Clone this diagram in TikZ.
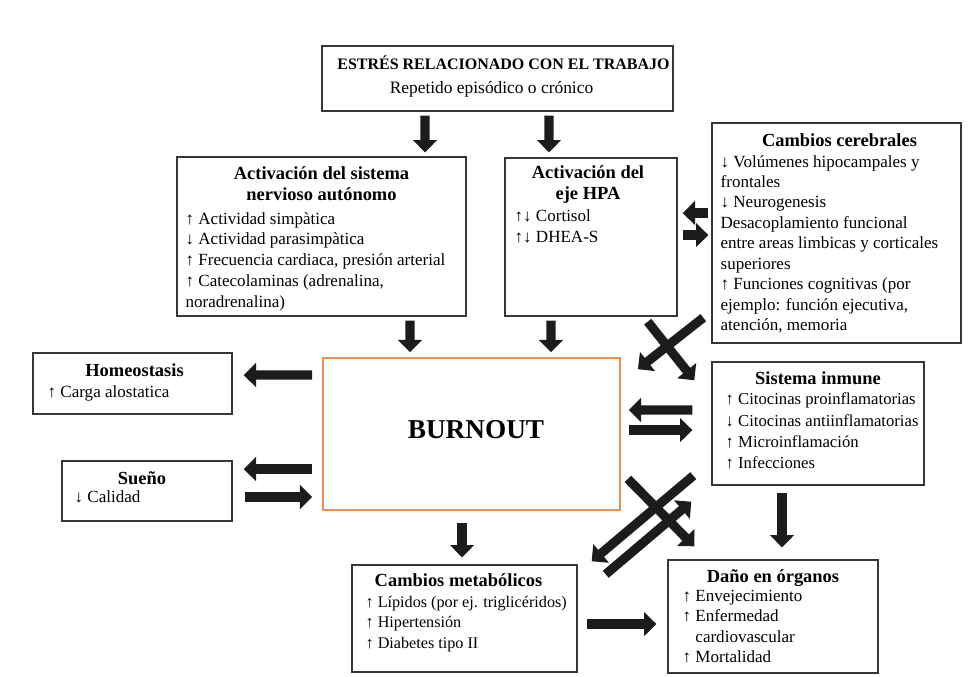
\documentclass[tikz,border=0pt]{standalone}
\usepackage{fontspec}
\setmainfont{Liberation Serif}
\usetikzlibrary{arrows.meta,positioning,fit,calc}
\definecolor{burnorange}{RGB}{235,145,80}
\definecolor{boxgray}{RGB}{55,55,55}
\definecolor{arrowblack}{RGB}{28,28,28}
\tikzset{
  box/.style={draw=boxgray, line width=0.8pt, inner sep=0pt},
  ttl/.style={font=\fontsize{10.5}{11.4}\selectfont\bfseries, align=center, inner sep=0pt, anchor=north},
  lst/.style={font=\fontsize{9.7}{11.9}\selectfont, align=left, inner sep=0pt, anchor=north west},
  blk/.style={draw=arrowblack, line width=5.2pt, -{Triangle[width=13.5pt,length=7pt]}},
}
\begin{document}
\begin{tikzpicture}[x=0.02cm, y=-0.02cm]
    \useasboundingbox (0,0) rectangle (975,677);

    % Boxes
    \node[box, fit={(322,46) (673,111)}] (estres) {};
    \node[box, fit={(177,157) (466,316)}] (ans) {};
    \node[box, fit={(505,158) (677,316)}] (hpa) {};
    \node[box, fit={(712,123) (961,343)}] (cereb) {};
    \node[box, fit={(33,353) (232,414)}] (homeo) {};
    \node[box, fit={(62,461) (232,521)}] (sueno) {};
    \node[box, draw=burnorange, line width=1pt, fit={(323,358) (620,510)}] (burnout) {};
    \node[box, fit={(712,362) (924,485)}] (inmune) {};
    \node[box, fit={(352,565) (577,672)}] (metab) {};
    \node[box, fit={(668,560) (878,673)}] (dano) {};

    % Texts
    \node[ttl, font=\fontsize{9.1}{11}\selectfont\bfseries] (estresT) at ($(estres.north)+(6,10)$) {ESTRÉS RELACIONADO CON EL TRABAJO};
    \node[ttl, font=\fontsize{9.9}{11}\selectfont] (estresS) at ($(estres.north)+(-6,35.5)$) {Repetido episódico o crónico};

    \node[ttl] (ansT) at ($(ans.north)+(0,10.5)$) {Activación del sistema\\nervioso autónomo};
    \node[lst] (ansL) at ($(ans.north west)+(9,55.5)$) {↑ Actividad simpàtica\\↓ Actividad parasimpàtica\\↑ Frecuencia cardiaca, presión arterial\\↑ Catecolaminas (adrenalina,\\noradrenalina)};

    \node[ttl] (hpaT) at ($(hpa.north)+(-3,8.5)$) {Activación del\\eje HPA};
    \node[lst] (hpaL) at ($(hpa.north west)+(10,52.5)$) {↑↓ Cortisol\\↑↓ DHEA-S};

    \node[ttl] (cerebT) at ($(cereb.north)+(3,11.5)$) {Cambios cerebrales};
    \node[lst, font=\fontsize{9.7}{11.65}\selectfont] (cerebL) at ($(cereb.north west)+(9,32.5)$) {↓ Volúmenes hipocampales y\\frontales\\↓ Neurogenesis\\Desacoplamiento funcional\\entre areas limbicas y corticales\\superiores\\↑ Funciones cognitivas (por\\ejemplo: función ejecutiva,\\atención, memoria};

    \node[ttl] (homeoT) at ($(homeo.north)+(2,11.5)$) {Homeostasis};
    \node[lst] (homeoL) at ($(homeo.north west)+(15,33.5)$) {↑ Carga alostatica};

    \node[ttl] (suenoT) at ($(sueno.north)+(-5,10.5)$) {Sueño};
    \node[lst] (suenoL) at ($(sueno.north west)+(13,30)$) {↓ Calidad};

    \node[font=\fontsize{15.5}{18}\selectfont\bfseries] (burnoutT) at ($(burnout)+(4.5,-4)$) {BURNOUT};

    \node[ttl] (inmuneT) at ($(inmune.north)+(0,10.5)$) {Sistema inmune};
    \node[lst, font=\fontsize{9.5}{12.1}\selectfont] (inmuneL) at ($(inmune.north west)+(14,31.5)$) {↑ Citocinas proinflamatorias\\↓ Citocinas antiinflamatorias\\↑ Microinflamación\\↑ Infecciones};

    \node[ttl] (metabT) at ($(metab.north)+(-6,9.5)$) {Cambios metabólicos};
    \node[lst, font=\fontsize{9.2}{11.65}\selectfont] (metabL) at ($(metab.north west)+(14,31.5)$) {↑ Lípidos (por ej. triglicéridos)\\↑ Hipertensión\\↑ Diabetes tipo II};

    \node[ttl] (danoT) at ($(dano.north)+(0,9.5)$) {Daño en órganos};
    \node[lst, font=\fontsize{9.7}{11.4}\selectfont] (danoL) at ($(dano.north west)+(15,31)$) {↑ Envejecimiento\\↑ Enfermedad\\\phantom{↑} cardiovascular\\↑ Mortalidad};

    % Arrows down from stress
    \draw[blk] ($(estres.south)+(-72.5,4)$) -- ($(ans.north)+(103.5,-4)$);
    \draw[blk] ($(estres.south)+(51.5,4)$) -- ($(hpa.north)+(-42,-5)$);
    \draw[blk] ($(ans.south)+(88.5,4)$) -- ($(burnout.north)+(-61.5,-5)$);
    \draw[blk] ($(hpa.south)+(-40,4)$) -- ($(burnout.north)+(79.5,-5)$);

    % HPA <-> brain
    \draw[blk] ($(cereb.west)+(-3,-20)$) -- ($(hpa.east)+(5,-24)$);
    \draw[blk] ($(hpa.east)+(5,-2)$) -- ($(cereb.west)+(-3,2)$);

    % Left side
    \draw[blk] ($(burnout.west)+(-10,-59)$) -- ($(homeo.east)+(11,-8.5)$);
    \draw[blk] ($(burnout.west)+(-10,35)$) -- ($(sueno.east)+(11,-22)$);
    \draw[blk] ($(sueno.east)+(12,6)$) -- ($(burnout.west)+(-10,63)$);

    % Immune system
    \draw[blk] ($(inmune.west)+(-19,-13.5)$) -- ($(burnout.east)+(8,-24)$);
    \draw[blk] ($(burnout.east)+(8,-4)$) -- ($(inmune.west)+(-19,6.5)$);

    % Bottom
    \draw[blk] ($(burnout.south)+(-9.5,12)$) -- ($(metab.north)+(-2.5,-7)$);
    \draw[blk] ($(metab.east)+(9,5.5)$) -- ($(dano.west)+(-11,7.5)$);
    \draw[blk] ($(inmune.south)+(-36,7)$) -- ($(dano.north)+(9,-12)$);

    % Crossing arrows, upper
    \draw[blk] ($(cereb.south west)+(-8,-26)$) -- ($(burnout.north east)+(17,12)$);
    \draw[blk] ($(hpa.south east)+(-30,5)$) -- ($(inmune.north west)+(-17,19)$);

    % Crossing arrows, lower
    \draw[blk] ($(burnout.south east)+(7,-32)$) -- ($(dano.north west)+(27,-13)$);
    \draw[blk] ($(inmune.south west)+(-18,-10)$) -- ($(metab.north east)+(14,-3)$);
    \draw[blk] ($(metab.north east)+(28,10)$) -- ($(inmune.south west)+(-20,16)$);
\end{tikzpicture}
\end{document}
